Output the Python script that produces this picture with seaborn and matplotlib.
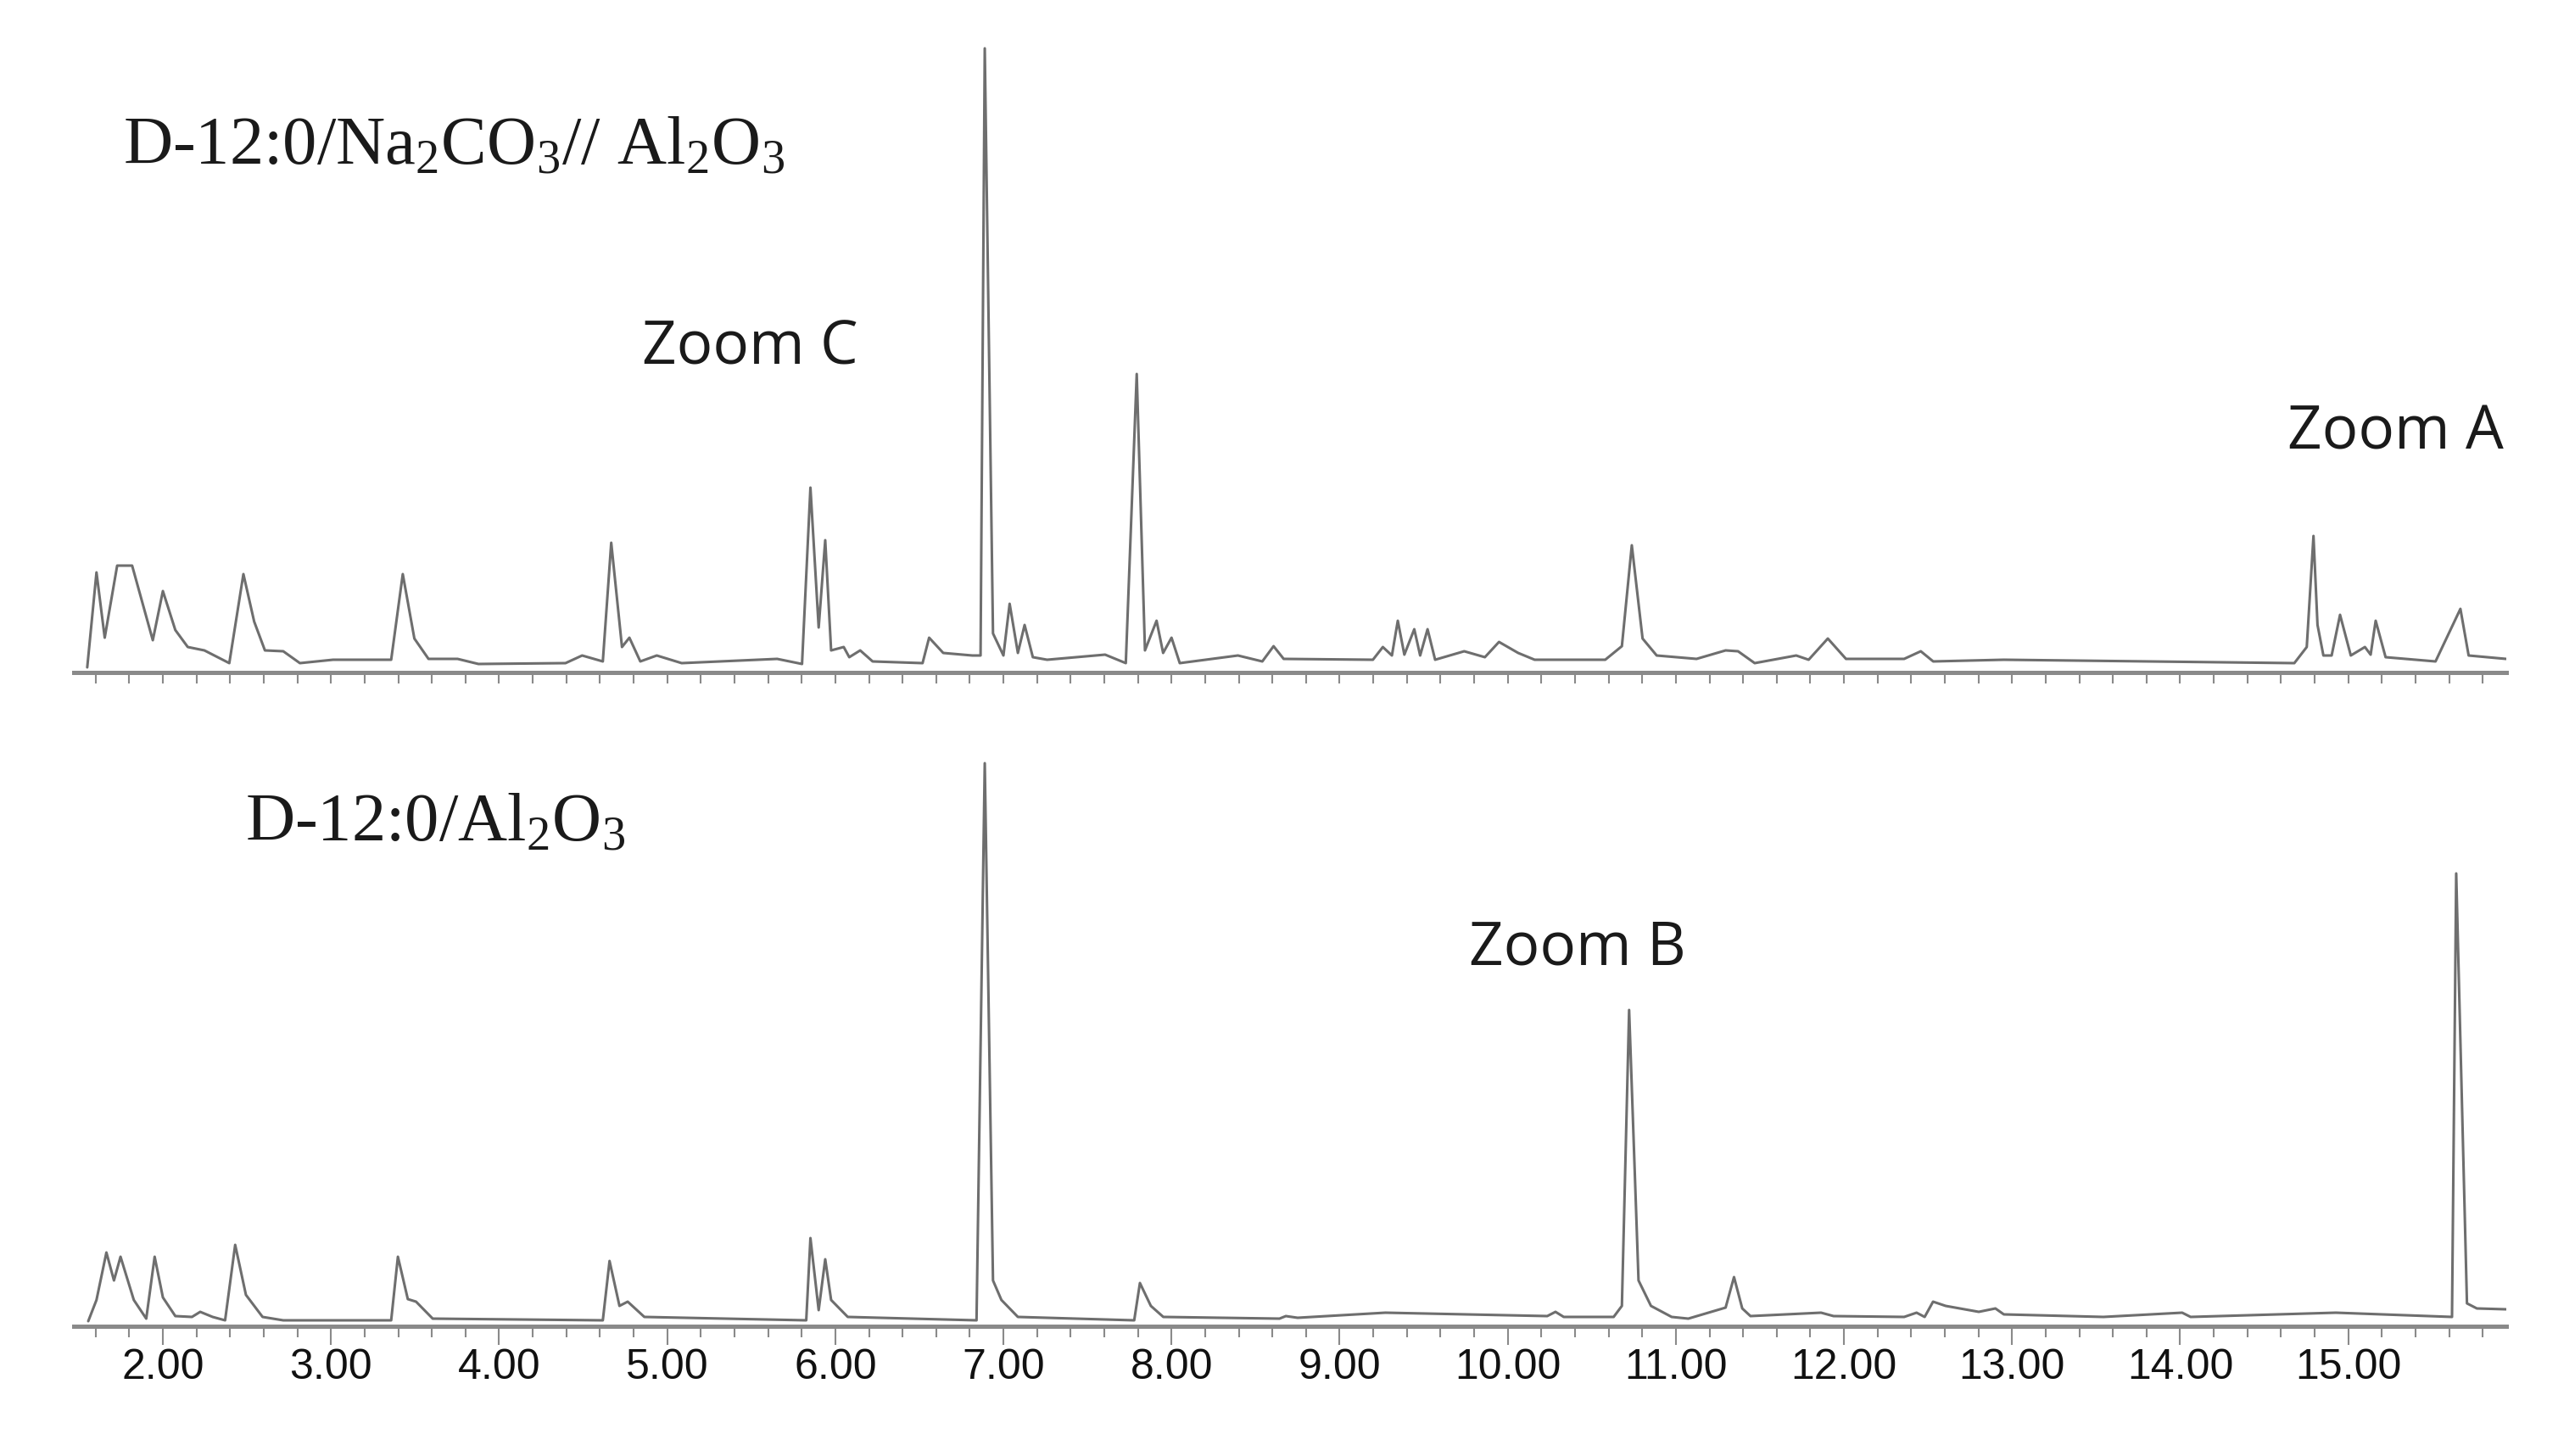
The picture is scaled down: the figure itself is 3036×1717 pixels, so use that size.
import numpy as np
import pandas as pd
import matplotlib
matplotlib.use("Agg")
import matplotlib.pyplot as plt
from matplotlib.ticker import MultipleLocator, FormatStrFormatter
import seaborn as sns

# Chromatogram traces (retention time in min, intensity in arbitrary units)
# Top trace: D-12:0/Na2CO3//Al2O3
top_time = [1.55, 1.605, 1.654, 1.728, 1.817, 1.94, 2.0, 2.074, 2.148, 2.247, 2.395, 2.479, 2.543,
            2.607, 2.716, 2.815, 3.012, 3.358, 3.427, 3.496, 3.58, 3.753, 3.877, 4.395, 4.494, 4.617,
            4.667, 4.731, 4.775, 4.84, 4.938, 5.086, 5.654, 5.802, 5.852, 5.901, 5.94, 5.975, 6.05,
            6.083, 6.148, 6.222, 6.519, 6.558, 6.642, 6.815, 6.864, 6.889, 6.938, 7.0, 7.037, 7.086,
            7.126, 7.175, 7.26, 7.605, 7.728, 7.793, 7.842, 7.911, 7.95, 8.0, 8.049, 8.395, 8.54,
            8.607, 8.667, 9.198, 9.257, 9.311, 9.346, 9.385, 9.444, 9.479, 9.523, 9.568, 9.741,
            9.864, 9.948, 10.062, 10.16, 10.58, 10.679, 10.738, 10.802, 10.886, 11.123, 11.296,
            11.37, 11.469, 11.716, 11.79, 11.904, 12.012, 12.358, 12.457, 12.531, 12.951, 14.679,
            14.753, 14.793, 14.817, 14.852, 14.901, 14.951, 15.015, 15.099, 15.133, 15.163, 15.222,
            15.519, 15.667, 15.716, 15.938]
top_signal = [6, 118, 41, 126, 126, 38, 96, 50, 30, 26, 11, 116, 60,
              26, 25, 11, 15, 15, 116, 40, 16, 16, 10, 11, 20, 13,
              153, 30, 41, 13, 20, 11, 16, 10, 218, 53, 156, 26, 30,
              18, 26, 13, 11, 41, 23, 20, 20, 736, 46, 20, 81, 23,
              56, 18, 15, 21, 11, 352, 26, 61, 23, 41, 11, 20, 13,
              31, 16, 15, 30, 20, 61, 21, 51, 20, 51, 15, 25,
              18, 36, 23, 15, 15, 31, 150, 40, 20, 16, 26,
              25, 11, 20, 15, 40, 16, 16, 25, 13, 15, 11,
              30, 161, 56, 20, 20, 68, 20, 30, 21, 61, 18,
              13, 75, 20, 16]

# Bottom trace: D-12:0/Al2O3
bot_time = [1.556, 1.605, 1.664, 1.709, 1.748, 1.827, 1.901, 1.951, 2.0, 2.074, 2.173, 2.222, 2.296,
            2.37, 2.43, 2.494, 2.593, 2.716, 3.358, 3.398, 3.457, 3.506, 3.605, 4.617, 4.657, 4.716,
            4.765, 4.864, 5.827, 5.852, 5.901, 5.94, 5.975, 6.074, 6.84, 6.889, 6.938, 6.988, 7.086,
            7.778, 7.812, 7.877, 7.951, 8.642, 8.68, 8.75, 9.272, 10.235, 10.284, 10.333, 10.63,
            10.679, 10.722, 10.778, 10.852, 10.975, 11.074, 11.296, 11.346, 11.395, 11.444, 11.864,
            11.938, 12.358, 12.432, 12.48, 12.53, 12.605, 12.802, 12.901, 12.951, 13.543, 14.012,
            14.062, 14.926, 15.617, 15.642, 15.706, 15.765, 15.938]
bot_signal = [6, 31, 87, 54, 82, 31, 9, 82, 34, 12, 11, 17, 11,
              7, 96, 37, 11, 7, 7, 82, 32, 29, 9, 7, 77, 24,
              29, 11, 7, 104, 19, 79, 31, 11, 7, 664, 54, 31, 11,
              7, 51, 24, 11, 9, 12, 10, 16, 12, 17, 11, 11,
              24, 373, 54, 24, 11, 9, 22, 58, 21, 12, 16,
              12, 11, 16, 11, 29, 24, 17, 21, 14, 11, 16,
              11, 16, 11, 534, 27, 21, 20]

major_ticks = list(range(2, 16))

top_df = pd.DataFrame({"time": top_time, "signal": top_signal})
bot_df = pd.DataFrame({"time": bot_time, "signal": bot_signal})

sns.set_style("white")
plt.rcParams["mathtext.fontset"] = "custom"
plt.rcParams["mathtext.rm"] = "Liberation Serif"
plt.rcParams["mathtext.it"] = "Liberation Serif:italic"

W, H = 3036, 1717
fig = plt.figure(figsize=(W / 100, H / 100), dpi=100)

x0, x1 = 87, 2955
ax_top = fig.add_axes([x0 / W, 1 - 793 / H, (x1 - x0) / W, 753 / H])
ax_bot = fig.add_axes([x0 / W, 1 - 1564 / H, (x1 - x0) / W, 684 / H])

trace_color = "#6e6e6e"
axis_color = "#8a8a8a"

for ax, df, ymax in [(ax_top, top_df, 753), (ax_bot, bot_df, 684)]:
    sns.lineplot(data=df, x="time", y="signal", ax=ax, color=trace_color,
                 linewidth=2.2, estimator=None, sort=False)
    ax.set_xlim(1.47, 15.94)
    ax.set_ylim(0, ymax)
    for side in ["top", "left", "right"]:
        ax.spines[side].set_visible(False)
    ax.spines["bottom"].set_color(axis_color)
    ax.spines["bottom"].set_linewidth(3.6)
    ax.set_yticks([])
    ax.set_xlabel("")
    ax.set_ylabel("")
    ax.set_xticks(major_ticks)
    ax.xaxis.set_minor_locator(MultipleLocator(0.2))
    ax.tick_params(axis="x", which="minor", bottom=True, length=9, width=1.5, color=axis_color)
    ax.patch.set_alpha(0)

# top panel: ticks only, no labels
ax_top.tick_params(axis="x", which="major", bottom=True, length=9, width=1.5,
                   color=axis_color, labelbottom=False)

# bottom panel: labelled time axis
ax_bot.xaxis.set_major_formatter(FormatStrFormatter("%.2f"))
ax_bot.tick_params(axis="x", which="major", bottom=True, length=16, width=1.5,
                   color=axis_color, pad=3, labelsize=36, labelcolor="#111111")
for lab in ax_bot.get_xticklabels():
    lab.set_family("Liberation Sans")

# sample labels and zoom annotations
fig.text(145 / W, 1 - 193 / H, r"D-12:0/Na$_2$CO$_3$// Al$_2$O$_3$", fontsize=58,
         family="Liberation Serif", va="baseline", ha="left", color="#1a1a1a")
fig.text(289 / W, 1 - 991 / H, r"D-12:0/Al$_2$O$_3$", fontsize=58,
         family="Liberation Serif", va="baseline", ha="left", color="#1a1a1a")
fig.text(757 / W, 1 - 430 / H, "Zoom C", fontsize=51, family="Open Sans",
         va="baseline", ha="left", color="#1a1a1a")
fig.text(2697 / W, 1 - 530 / H, "Zoom A", fontsize=51, family="Open Sans",
         va="baseline", ha="left", color="#1a1a1a")
fig.text(1732 / W, 1 - 1138 / H, "Zoom B", fontsize=51, family="Open Sans",
         va="baseline", ha="left", color="#1a1a1a")

plt.savefig("out.png", dpi=100, facecolor="white")
